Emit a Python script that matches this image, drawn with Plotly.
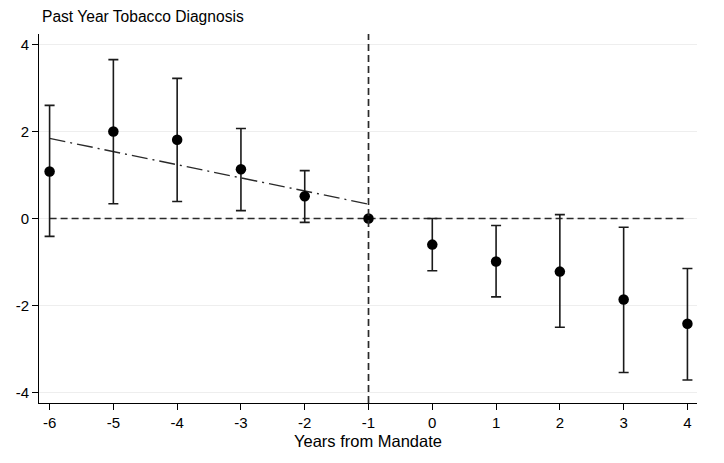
import plotly.graph_objects as go

years = [-6, -5, -4, -3, -2, -1, 0, 1, 2, 3, 4]
estimates = [1.08, 2.00, 1.81, 1.13, 0.51, 0.0, -0.60, -0.99, -1.22, -1.86, -2.42]
ci_upper = [2.60, 3.65, 3.22, 2.07, 1.10, 0.0, 0.00, -0.16, 0.09, -0.20, -1.15]
ci_lower = [-0.41, 0.34, 0.39, 0.18, -0.09, 0.0, -1.20, -1.80, -2.50, -3.54, -3.71]
trend_x = [-6, -1]
trend_y = [1.84, 0.33]
y_ticks = [-4, -2, 0, 2, 4]

font = "Liberation Sans, Arial, Helvetica, sans-serif"

err_plus = [u - e for u, e in zip(ci_upper, estimates)]
err_minus = [e - l for e, l in zip(estimates, ci_lower)]
vis = [i for i, y in enumerate(years) if y != -1]

fig = go.Figure()

fig.add_trace(go.Scatter(
    x=[years[0], years[-1]], y=[0, 0], mode="lines",
    line=dict(color="#2a2a2a", width=1.7, dash="7px,4px"),
    hoverinfo="skip", showlegend=False))

fig.add_trace(go.Scatter(
    x=trend_x, y=trend_y, mode="lines",
    line=dict(color="#2a2a2a", width=1.4, dash="16px,5px,2px,5px"),
    showlegend=False))

fig.add_trace(go.Scatter(
    x=[years[i] for i in vis], y=[estimates[i] for i in vis], mode="markers",
    marker=dict(size=0.1, color="rgba(0,0,0,0)"),
    error_y=dict(type="data", symmetric=False,
                 array=[err_plus[i] for i in vis],
                 arrayminus=[err_minus[i] for i in vis],
                 color="#1a1a1a", thickness=1.6, width=5),
    showlegend=False, hoverinfo="skip"))

fig.add_trace(go.Scatter(
    x=years, y=estimates, mode="markers",
    marker=dict(size=10.5, color="black"),
    showlegend=False))

fig.add_shape(type="line", xref="x", yref="paper", x0=-1, x1=-1, y0=0, y1=1,
              line=dict(color="#2a2a2a", width=1.7, dash="7px,4px"))

fig.update_layout(
    width=716, height=455,
    margin=dict(l=31, r=27, t=26, b=60, autoexpand=False),
    paper_bgcolor="white", plot_bgcolor="white",
    font=dict(family=font, size=15, color="black"),
    title=dict(text="Past Year Tobacco Diagnosis", x=0, xref="paper", xanchor="left",
               y=1, yref="container", yanchor="top", pad=dict(t=3, l=3),
               automargin=False,
               font=dict(family=font, size=15.6, color="black")),
)

fig.update_xaxes(
    range=[-6.166, 4.15], tickmode="array", tickvals=years,
    ticktext=[str(y) for y in years],
    showgrid=False, zeroline=False, automargin=False,
    showline=True, linecolor="black", linewidth=1,
    ticks="outside", ticklen=6, tickcolor="black",
    title=dict(text="Years from Mandate", font=dict(family=font, size=16.5), standoff=5),
    tickfont=dict(family=font, size=15))

fig.update_yaxes(
    range=[-4.24, 4.24], tickmode="array", tickvals=y_ticks,
    ticktext=[str(v) for v in y_ticks],
    showgrid=True, gridcolor="#eeeeee", gridwidth=1, zeroline=False, automargin=False,
    showline=True, linecolor="black", linewidth=1,
    ticks="outside", ticklen=6, tickcolor="black",
    tickfont=dict(family=font, size=15))

fig.write_html("out.html")
